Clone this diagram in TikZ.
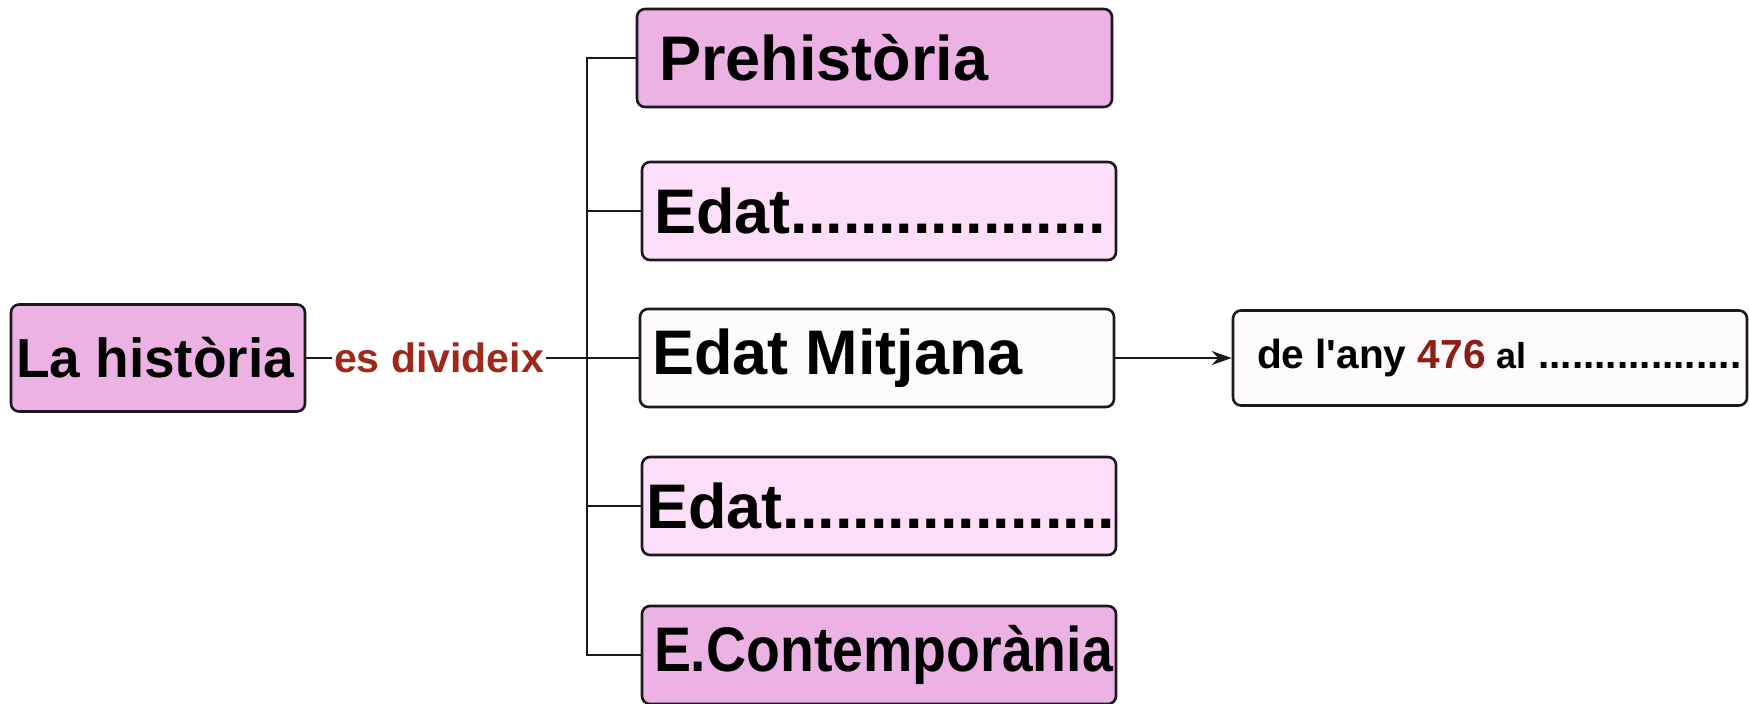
\documentclass[tikz,border=0pt]{standalone}
\usepackage{fontspec}
\setmainfont{Liberation Sans}
\newfontfamily\plainfont{Liberation Sans}
\usetikzlibrary{arrows.meta}
\definecolor{pinkdark}{RGB}{236,178,228}
\definecolor{pinklight}{RGB}{252,222,248}
\definecolor{offwhite}{RGB}{252,250,252}
\definecolor{labred}{RGB}{160,40,26}
\definecolor{numred}{RGB}{140,30,20}
\definecolor{edge}{RGB}{30,24,30}
\tikzset{
  box/.style={draw=edge, line width=1.3pt, rounded corners=4pt, inner sep=0pt, font=\bfseries},
  conn/.style={draw=edge, line width=1pt},
}
\newcommand{\bigf}{\fontsize{31.5}{36}\selectfont}
\newcommand{\boxtext}[3]{\makebox[#1][l]{\hspace{#2}#3}}
\begin{document}
\begin{tikzpicture}[x=0.5pt,y=-0.5pt]
\useasboundingbox (0,0) rectangle (1749,703);
% root
\node[box, fill=pinkdark, minimum height=53.5pt] (hist) at (158,358) {\boxtext{147pt}{2.5pt}{\fontsize{27.5}{32}\selectfont La història}};
\node[inner xsep=1pt, inner ysep=1pt, text=labred, font=\bfseries\fontsize{20.5}{24}\selectfont] (lab) at (439,358) {es divideix};
\coordinate (J) at (587,358);
% branches
\node[box, fill=pinkdark, minimum height=49pt] (pre) at (874.5,58) {\boxtext{237.5pt}{11pt}{\bigf Prehistòria}};
\node[box, fill=pinklight, minimum height=49pt] (e2) at (879,211) {\boxtext{237pt}{6pt}{\bigf Edat..................}};
\node[box, fill=offwhite, minimum height=49pt] (mit) at (877,358) {\boxtext{237pt}{6pt}{\bigf Edat Mitjana}};
\node[box, fill=pinklight, minimum height=49pt] (e4) at (879,506) {\boxtext{237pt}{2pt}{\bigf Edat...................}};
\node[box, fill=pinkdark, minimum height=49pt] (cont) at (879,655) {\boxtext{237pt}{6pt}{\scalebox{0.88}[1]{\bigf E.Contemporània}}};
\node[box, fill=offwhite, minimum height=47.5pt] (rb) at (1490,358) {\boxtext{257pt}{12pt}{\fontsize{20.3}{24}\selectfont de l{\plainfont\bfseries '}any {\color{numred}476} {\fontsize{18}{24}\selectfont al} ..................}};
% connectors
\draw[conn] (hist.east) -- (lab.west);
\draw[conn] (lab.east) -- (J);
\draw[conn] (pre.west) -| (J);
\draw[conn] (cont.west) -| (J);
\draw[conn] (e2.west -| J) -- (e2.west);
\draw[conn] (e4.west -| J) -- (e4.west);
\draw[conn] (J) -- (mit.west);
\draw[conn, -{Stealth[length=10pt,width=7pt]}] (mit.east) -- (mit.east -| rb.west);
\end{tikzpicture}
\end{document}
